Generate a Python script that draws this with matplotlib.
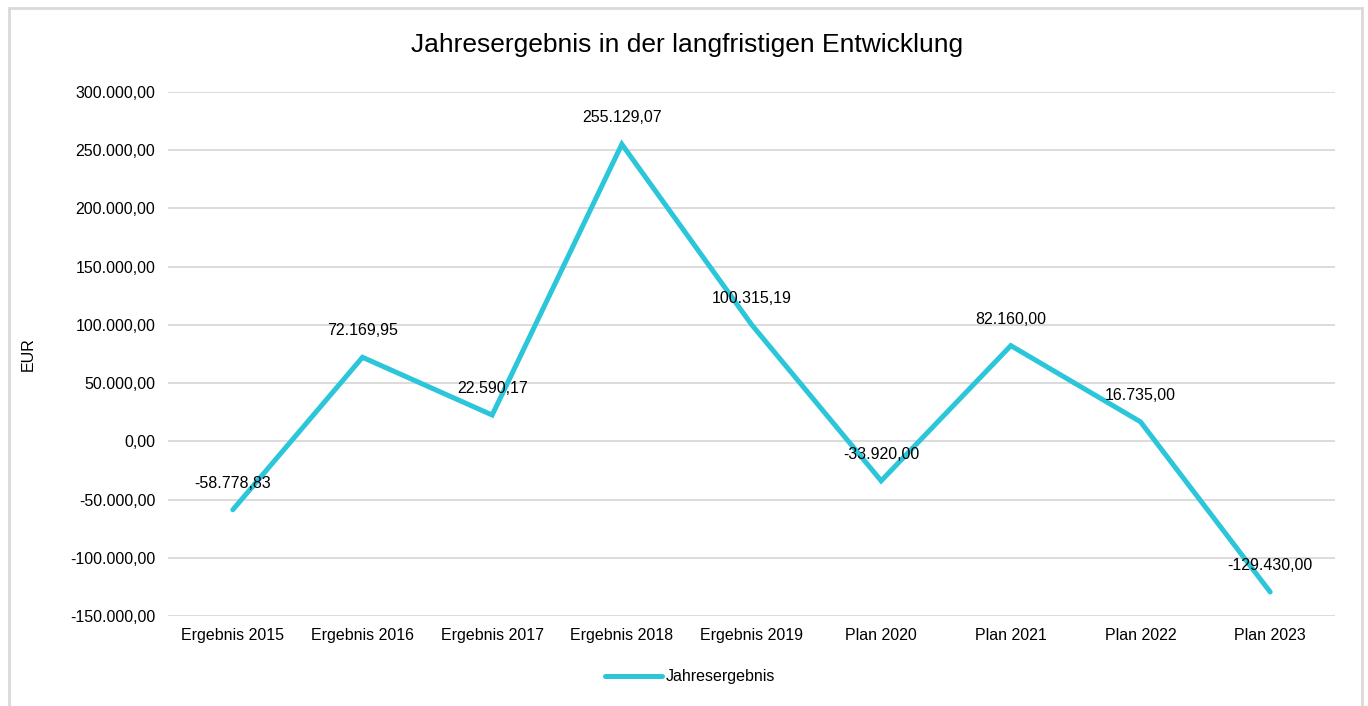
import numpy as np
import matplotlib.pyplot as plt
from matplotlib.patches import Rectangle
from matplotlib.ticker import FuncFormatter

plt.rcParams['font.family'] = ['Liberation Sans', 'DejaVu Sans']

# chart data
categories = ['Ergebnis 2015', 'Ergebnis 2016', 'Ergebnis 2017', 'Ergebnis 2018',
              'Ergebnis 2019', 'Plan 2020', 'Plan 2021', 'Plan 2022', 'Plan 2023']
values = [-58778.83, 72169.95, 22590.17, 255129.07, 100315.19,
          -33920.00, 82160.00, 16735.00, -129430.00]
series_name = 'Jahresergebnis'
y_ticks = np.arange(-150000, 300001, 50000)

LINE_COLOR = '#2BC6D9'
GRID_COLOR = '#D9D9D9'


# german number format, e.g. 255.129,07
def de_format(v, pos=None):
    s = '{:,.2f}'.format(v)
    return s.replace(',', 'X').replace('.', ',').replace('X', '.')


fig = plt.figure(figsize=(13.68, 7.06), dpi=100)
ax = fig.add_axes([0.1228, 0.1275, 0.8531, 0.7422])

# outer chart border
fig.patches.append(Rectangle((9 / 1368, -0.05), 1353 / 1368, 1.05 - 8 / 706,
                             transform=fig.transFigure, fill=False,
                             edgecolor=GRID_COLOR, linewidth=2))

x = np.arange(len(categories))
line, = ax.plot(x, values, color=LINE_COLOR, linewidth=3.6, solid_capstyle='round',
                solid_joinstyle='miter', label=series_name, zorder=3)

# data labels above points
for xi, v in zip(x, values):
    ax.annotate(de_format(v), (xi, v), xytext=(0, 19), textcoords='offset points',
                ha='center', va='center', fontsize=11.5, color='#000000', zorder=4)

ax.set_xlim(-0.5, len(categories) - 0.5)
ax.set_ylim(-150000, 300000)
ax.set_yticks(y_ticks)
ax.yaxis.set_major_formatter(FuncFormatter(de_format))
ax.set_xticks(x)
ax.set_xticklabels(categories)
ax.tick_params(axis='both', length=0, labelsize=11.5, colors='#000000')
ax.tick_params(axis='y', pad=9)
ax.tick_params(axis='x', pad=9)

ax.grid(axis='y', color=GRID_COLOR, linewidth=1.3, zorder=0)
for s in ax.spines.values():
    s.set_visible(False)

ax.set_ylabel('EUR', fontsize=11.5)
ax.yaxis.set_label_coords(-0.113, 0.5)

fig.text(687 / 1368, 1 - 45 / 706, 'Jahresergebnis in der langfristigen Entwicklung',
         ha='center', va='center', fontsize=19)

fig.legend(handles=[line], loc='center', bbox_to_anchor=(690 / 1368, 1 - 677 / 706),
           frameon=False, fontsize=11.5, handlelength=3.6, handletextpad=0.2)

fig.savefig('out.png', dpi=100)
